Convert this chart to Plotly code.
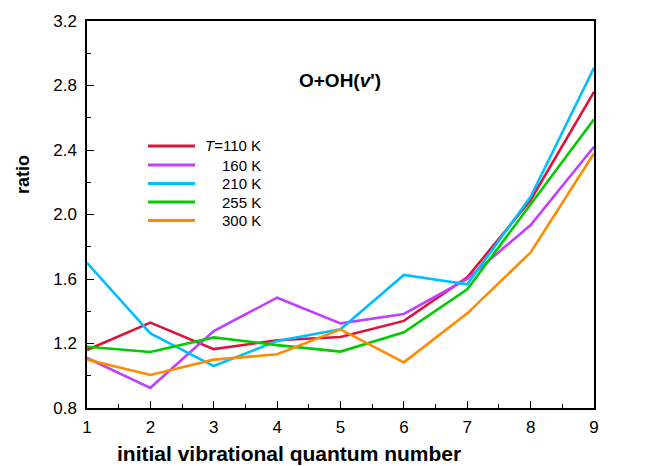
import plotly.graph_objects as go

v = [1, 2, 3, 4, 5, 6, 7, 8, 9]
labels = ["<i>T</i>=110 K", "160 K", "210 K", "255 K", "300 K"]
r110 = [1.16, 1.33, 1.165, 1.22, 1.24, 1.34, 1.61, 2.09, 2.76]
r160 = [1.11, 0.925, 1.277, 1.484, 1.325, 1.383, 1.60, 1.935, 2.42]
r210 = [1.70, 1.263, 1.06, 1.215, 1.288, 1.625, 1.567, 2.11, 2.91]
r255 = [1.18, 1.147, 1.238, 1.19, 1.15, 1.27, 1.536, 2.06, 2.59]
r300 = [1.10, 1.005, 1.10, 1.133, 1.288, 1.083, 1.387, 1.765, 2.38]
colors = ["#DC143C", "#BF40FF", "#00BFFF", "#00CC00", "#FF8C00"]
series = [r110, r160, r210, r255, r300]

font = "Liberation Sans, Arial, sans-serif"

OFF = 8  # page body margin
# plot area in page pixels
PX0, PX1, PY0, PY1 = 87, 594, 21, 408
W, H = 653 - OFF, 466 - OFF
L, T = PX0 - OFF, PY0 - OFF
R, B = W - (PX1 - OFF), H - (PY1 - OFF)
pw, ph = PX1 - PX0, PY1 - PY0

def px(x):
    return (x - PX0) / pw

def py(y):
    return (PY1 - y) / ph

fig = go.Figure()
for name, ys, c in zip(labels, series, colors):
    fig.add_trace(go.Scatter(x=v, y=ys, mode="lines", name=name, showlegend=False,
                             line=dict(color=c, width=2.6)))

# manual legend (lines + right-aligned labels)
leg_rows = [146, 165, 183.5, 202, 220.5]
shapes = []
annotations = []
for name, c, yp in zip(labels, colors, leg_rows):
    shapes.append(dict(type="line", xref="paper", yref="paper",
                       x0=px(148), x1=px(195), y0=py(yp), y1=py(yp),
                       line=dict(color=c, width=3)))
    annotations.append(dict(text=name, xref="paper", yref="paper",
                            x=px(263), y=py(yp), xanchor="right", yanchor="middle",
                            showarrow=False, font=dict(size=15, family=font)))

annotations.append(dict(text="<b>O+OH(<i>v</i>')</b>", x=px(340), y=py(80),
                        xref="paper", yref="paper", showarrow=False,
                        xanchor="center", yanchor="middle",
                        font=dict(size=19, family=font)))
annotations.append(dict(text="<b>ratio</b>", x=px(23), y=py(175),
                        xref="paper", yref="paper", showarrow=False, textangle=-90,
                        xanchor="center", yanchor="middle",
                        font=dict(size=18, family=font)))
annotations.append(dict(text="<b>initial vibrational quantum number</b>", x=px(289),
                        y=py(453), xref="paper", yref="paper", showarrow=False,
                        xanchor="center", yanchor="middle",
                        font=dict(size=21, family=font)))

fig.update_layout(
    width=W, height=H,
    margin=dict(l=L, r=R, t=T, b=B, pad=0),
    plot_bgcolor="white", paper_bgcolor="white",
    font=dict(family=font, size=17, color="black"),
    showlegend=False,
    shapes=shapes,
    annotations=annotations,
)
fig.update_xaxes(range=[1, 9], dtick=1, tick0=1, ticks="inside", ticklen=7,
                 tickwidth=1.2, tickcolor="black", automargin=False,
                 showline=True, linecolor="black", linewidth=1.5, mirror=True,
                 showgrid=False, zeroline=False,
                 minor=dict(ticks="inside", ticklen=4, dtick=0.5, tickcolor="black", tickwidth=1),
                 ticklabelstandoff=3)
fig.update_yaxes(range=[0.8, 3.2], dtick=0.4, tick0=0.8, ticks="inside", ticklen=7,
                 tickwidth=1.2, tickcolor="black", tickformat=".1f", automargin=False,
                 showline=True, linecolor="black", linewidth=1.5, mirror=True,
                 showgrid=False, zeroline=False,
                 minor=dict(ticks="inside", ticklen=4, dtick=0.2, tickcolor="black", tickwidth=1),
                 ticklabelstandoff=5)
fig.write_html("out.html")
